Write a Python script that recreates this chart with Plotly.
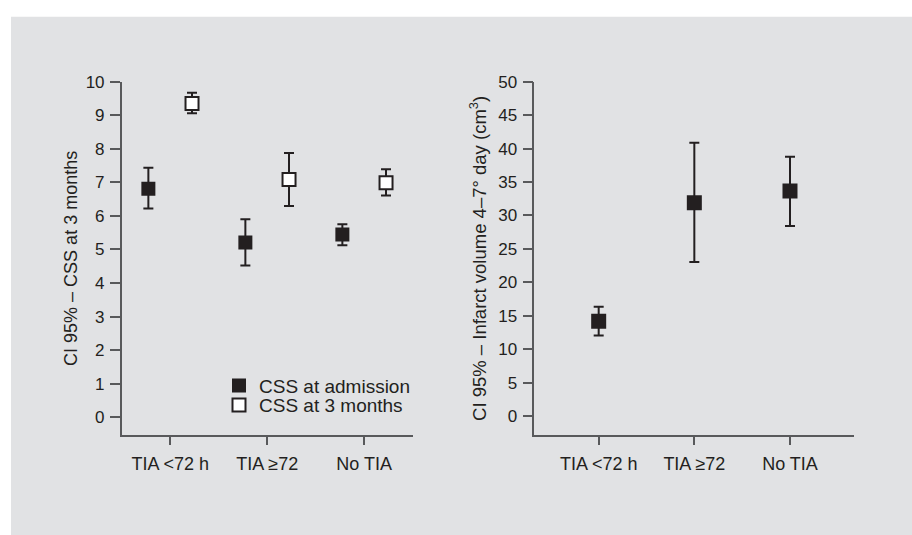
import plotly.graph_objects as go

categories = ["TIA <72 h", "TIA ≥72", "No TIA"]

# Left panel: CSS (mean, 95% CI)
css_adm_mean = [6.81, 5.21, 5.45]
css_adm_upper = [7.44, 5.90, 5.75]
css_adm_lower = [6.22, 4.52, 5.13]

css_3m_mean = [9.35, 7.09, 6.99]
css_3m_upper = [9.67, 7.88, 7.39]
css_3m_lower = [9.06, 6.30, 6.61]

# Right panel: infarct volume (mean, 95% CI)
vol_mean = [14.2, 31.9, 33.67]
vol_upper = [16.34, 40.87, 38.8]
vol_lower = [12.04, 23.05, 28.44]

y_left_ticks = list(range(0, 11))
y_right_ticks = list(range(0, 51, 5))

INK = "#231f20"
GREY = "#e1e2e4"
FONT = "Liberation Sans, Arial, sans-serif"
FS = 18

idx = list(range(len(categories)))
off = 0.225


def err(mean, up, lo):
    return dict(type="data", symmetric=False,
                array=[u - m for u, m in zip(up, mean)],
                arrayminus=[m - l for m, l in zip(mean, lo)],
                color=INK, thickness=2, width=5)


fig = go.Figure()
fig.add_trace(go.Scatter(
    x=[i - off for i in idx], y=css_adm_mean, mode="markers",
    name="CSS at admission", legend="legend",
    marker=dict(symbol="square", size=14, color=INK, line=dict(width=0)),
    error_y=err(css_adm_mean, css_adm_upper, css_adm_lower),
    xaxis="x", yaxis="y"))
fig.add_trace(go.Scatter(
    x=[i + off for i in idx], y=css_3m_mean, mode="markers",
    name="CSS at 3 months", legend="legend2",
    marker=dict(symbol="square", size=13, color="white", line=dict(width=2, color=INK)),
    error_y=err(css_3m_mean, css_3m_upper, css_3m_lower),
    xaxis="x", yaxis="y"))
fig.add_trace(go.Scatter(
    x=idx, y=vol_mean, mode="markers", showlegend=False,
    marker=dict(symbol="square", size=15, color=INK, line=dict(width=0)),
    error_y=err(vol_mean, vol_upper, vol_lower),
    xaxis="x2", yaxis="y2"))

axis_common = dict(
    showline=True, linecolor="#58595b", linewidth=1.5,
    ticks="outside", tickcolor="#58595b", tickwidth=1.5,
    showgrid=False, zeroline=False,
)

ydom = [101.7 / 535, 461 / 535]
xfont = dict(family=FONT, size=FS, color=INK)
yfont = dict(family=FONT, size=17, color=INK)

leg_common = dict(x=219 / 912, xanchor="left", yanchor="middle",
                  bgcolor="rgba(0,0,0,0)", font=dict(family=FONT, size=19, color=INK),
                  itemwidth=30)

fig.update_layout(
    width=912, height=535,
    margin=dict(l=0, r=0, t=0, b=0),
    paper_bgcolor="white", plot_bgcolor="rgba(0,0,0,0)",
    font=dict(family=FONT, size=FS, color=INK),
    xaxis=dict(domain=[121.7 / 912, 412.7 / 912], range=[-0.5, 2.5],
               tickvals=idx, ticktext=categories, ticklen=8, tickfont=xfont,
               ticklabelstandoff=4, anchor="y", **axis_common),
    yaxis=dict(domain=ydom, range=[-0.53, 10], tickvals=y_left_ticks,
               ticklen=10, ticklabelstandoff=2, anchor="x", tickfont=yfont,
               title=dict(text="CI 95% – CSS at 3 months", standoff=3,
                          font=dict(family=FONT, size=FS, color=INK)),
               **axis_common),
    xaxis2=dict(domain=[534.3 / 912, 853.7 / 912], range=[-0.673, 2.666],
                tickvals=idx, ticktext=categories, ticklen=8, tickfont=xfont,
                ticklabelstandoff=4, anchor="y2", **axis_common),
    yaxis2=dict(domain=ydom, range=[-2.83, 50], tickvals=y_right_ticks,
                ticklen=10, ticklabelstandoff=2, anchor="x2", tickfont=yfont,
                title=dict(text="CI 95% – Infarct volume 4–7° day (cm<sup>3</sup>)",
                           standoff=7,
                           font=dict(family=FONT, size=18.5, color=INK)),
                **axis_common),
    legend=dict(y=(535 - 383) / 535, **leg_common),
    legend2=dict(y=(535 - 403) / 535, **leg_common),
    shapes=[dict(type="rect", xref="paper", yref="paper", layer="below",
                 x0=11 / 912, x1=1.0, y0=0, y1=(535 - 8) / 535,
                 fillcolor=GREY, line=dict(width=0))],
)

fig.write_html("out.html")
